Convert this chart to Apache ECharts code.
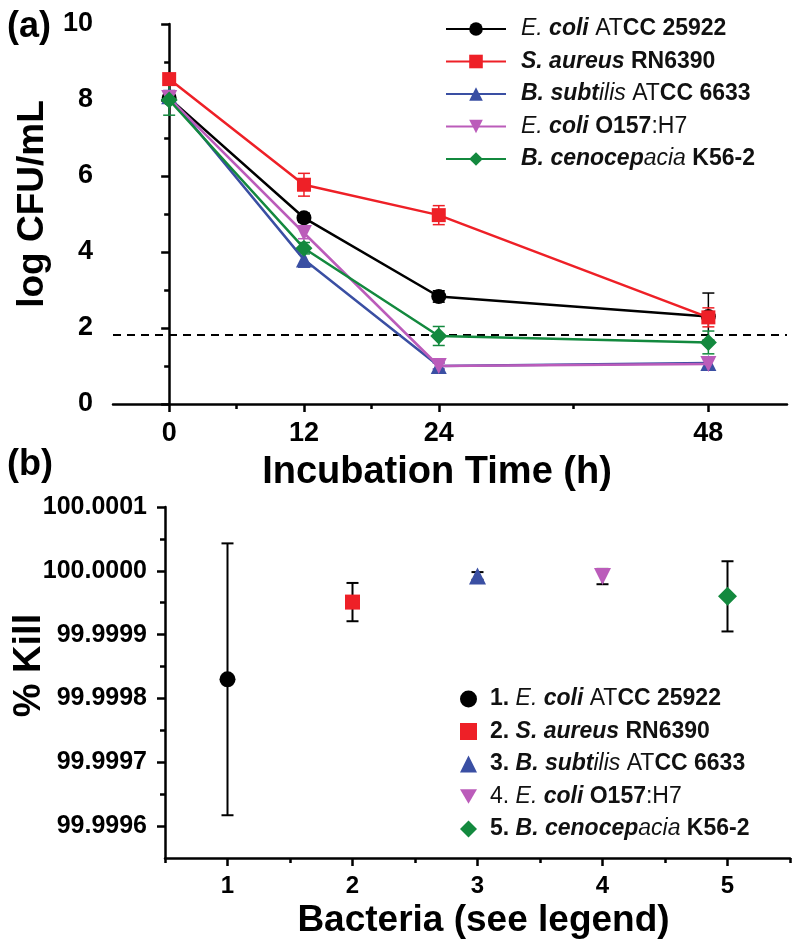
<!DOCTYPE html>
<html>
<head>
<meta charset="utf-8">
<script src="https://cdn.jsdelivr.net/npm/echarts@6/dist/echarts.min.js"></script>
<style>
html,body{margin:0;padding:0;background:#fff;}
#chart{width:800px;height:951px;}
</style>
</head>
<body>
<div id="chart"></div>
<script>
// ---------- Data ----------
var times = [0, 12, 24, 48];
var timeTicks = [0, 12, 24, 48];
var timeMinorTicks = [6, 18, 36];

var namesA = ['E. coli ATCC 25922', 'S. aureus RN6390', 'B. subtilis ATCC 6633', 'E. coli O157:H7', 'B. cenocepacia K56-2'];
var ecoliATCC = [8.05, 4.90, 2.83, 2.30];
var ecoliATCCErr = [0.10, 0.12, 0.15, 0.62];
var saureus = [8.55, 5.77, 4.97, 2.28];
var saureusErr = [0.12, 0.30, 0.25, 0.25];
var bsubtilis = [8.10, 3.80, 1.00, 1.08];
var bsubtilisErr = [0.15, 0.20, 0.08, 0.15];
var ecoliO157 = [8.05, 4.50, 1.00, 1.05];
var ecoliO157Err = [0.12, 0.15, 0.08, 0.15];
var bceno = [8.00, 4.10, 1.79, 1.62];
var bcenoErr = [0.40, 0.15, 0.25, 0.30];
var detectionLimit = 1.82;

var bacteria = [1, 2, 3, 4, 5];
var namesB = ['1. E. coli ATCC 25922', '2. S. aureus RN6390', '3. B. subtilis ATCC 6633', '4. E. coli O157:H7', '5. B. cenocepacia K56-2'];
var killVals = [99.99983, 99.999951, 99.999992, 99.999991, 99.99996];
var killErr = [0.000213, 0.00003, 0.000006, 0.000012, 0.000055];
var killTicks = [99.9996, 99.9997, 99.9998, 99.9999, 100.0000, 100.0001];
var killMinorTicks = [99.99965, 99.99975, 99.99985, 99.99995, 100.00005];
var bacteriaMinorTicks = [0.5, 1.5, 2.5, 3.5, 4.5, 5.5];

var legendTextA = [
  '{i|E.} {bi|coli} {r|AT}{b|CC 25922}',
  '{bi|S. aureus} {b|RN6390}',
  '{bi|B. subt}{i|ilis} {r|AT}{b|CC 6633}',
  '{i|E.} {bi|coli} {b|O157}{r|:H7}',
  '{bi|B. cenocep}{i|acia} {b|K56-2}'
];
var legendTextB = [
  '{b|1.} {i|E.} {bi|coli} {r|AT}{b|CC 25922}',
  '{b|2.} {bi|S. aureus} {b|RN6390}',
  '{b|3.} {bi|B. subt}{i|ilis} {r|AT}{b|CC 6633}',
  '{r|4.} {i|E.} {bi|coli} {b|O157}{r|:H7}',
  '{b|5.} {bi|B. cenocep}{i|acia} {b|K56-2}'
];

// ---------- Styles ----------
var FONT = "'Liberation Sans', Arial, Helvetica, sans-serif";
var colors = ['#000000', '#ee2027', '#3a4fa3', '#bb5cba', '#13893e'];
var symbols = ['circle', 'rect', 'triangle', 'triangle', 'diamond'];
var rotates = [0, 0, 0, 180, 0];
var sizesA = [15, 14, 16, 16, 17];
var sizesB = [16, 15, 17, 17, 19];
var seriesA = [ecoliATCC, saureus, bsubtilis, ecoliO157, bceno];
var errA = [ecoliATCCErr, saureusErr, bsubtilisErr, ecoliO157Err, bcenoErr];
var downTriangle = 'path://M0,0L10,0L5,8.66Z';

var LF = 23;
var richStyles = {
  r: {fontFamily: FONT, fontSize: LF, fontWeight: 'normal', fontStyle: 'normal', color: '#111', lineHeight: 28},
  b: {fontFamily: FONT, fontSize: LF, fontWeight: 'bold', fontStyle: 'normal', color: '#111', lineHeight: 28},
  i: {fontFamily: FONT, fontSize: LF, fontWeight: 'normal', fontStyle: 'italic', color: '#111', lineHeight: 28},
  bi: {fontFamily: FONT, fontSize: LF, fontWeight: 'bold', fontStyle: 'italic', color: '#111', lineHeight: 28}
};

function errRender(capHalf, lw) {
  return function (params, api) {
    var x = api.value(0), lo = api.value(1), hi = api.value(2);
    var pH = api.coord([x, hi]);
    var pL = api.coord([x, lo]);
    var st = {stroke: api.visual('color'), lineWidth: lw};
    return {
      type: 'group',
      children: [
        {type: 'line', shape: {x1: pH[0], y1: pH[1], x2: pL[0], y2: pL[1]}, style: st},
        {type: 'line', shape: {x1: pH[0] - capHalf, y1: pH[1], x2: pH[0] + capHalf, y2: pH[1]}, style: st},
        {type: 'line', shape: {x1: pL[0] - capHalf, y1: pL[1], x2: pL[0] + capHalf, y2: pL[1]}, style: st}
      ]
    };
  };
}

var series = [];
// Panel (a)
for (var k = 0; k < 5; k++) {
  (function (k) {
    var errData = times.map(function (t, i) {
      return [t, seriesA[k][i] - errA[k][i], seriesA[k][i] + errA[k][i]];
    });
    series.push({
      type: 'custom', name: namesA[k] + ' err', xAxisIndex: 0, yAxisIndex: 0,
      renderItem: errRender(6, 1.5), itemStyle: {color: colors[k]},
      data: errData, z: 2, silent: true
    });
    var s = {
      type: 'line', name: namesA[k], xAxisIndex: 0, yAxisIndex: 0,
      data: times.map(function (t, i) { return [t, seriesA[k][i]]; }),
      symbol: symbols[k], symbolSize: sizesA[k], symbolRotate: rotates[k], symbolKeepAspect: true,
      showAllSymbol: true,
      lineStyle: {color: colors[k], width: 2.5},
      itemStyle: {color: colors[k]},
      z: 3 + k
    };
    if (k === 0) {
      s.markLine = {
        silent: true, symbol: 'none', label: {show: false},
        lineStyle: {color: '#000', type: [8, 6], width: 2.2},
        data: [{yAxis: detectionLimit}]
      };
    }
    series.push(s);
  })(k);
}
// Panel (b)
series.push({
  type: 'custom', name: 'kill err', xAxisIndex: 2, yAxisIndex: 1,
  renderItem: errRender(6, 2), itemStyle: {color: '#000'},
  data: bacteria.map(function (b, i) { return [b, killVals[i] - killErr[i], killVals[i] + killErr[i]]; }),
  z: 2, silent: true
});
for (var j = 0; j < 5; j++) {
  series.push({
    type: 'scatter', name: namesB[j], xAxisIndex: 2, yAxisIndex: 1,
    data: [[bacteria[j], killVals[j]]],
    symbol: symbols[j], symbolSize: sizesB[j], symbolRotate: rotates[j], symbolKeepAspect: true,
    itemStyle: {color: colors[j], opacity: 1},
    z: 4
  });
}

var axisLineStyle = {show: true, lineStyle: {color: '#000', width: 2.5}};

var legendDataB = namesB.map(function (n, i) {
  return rotates[i] === 180 ? {name: n, icon: downTriangle} : {name: n};
});

var option = {
  backgroundColor: '#fff',
  animation: false,
  textStyle: {fontFamily: FONT},
  graphic: [
    {type: 'text', left: 7, top: 9, style: {text: '(a)', font: "bold 36px 'Liberation Sans', Arial, sans-serif", fill: '#000'}},
    {type: 'text', left: 7, top: 447, style: {text: '(b)', font: "bold 36px 'Liberation Sans', Arial, sans-serif", fill: '#000'}}
  ],
  grid: [
    {left: 113, top: 24, right: 13, bottom: 547, containLabel: false, outerBoundsMode: 'none'},
    {left: 165, top: 507, right: 10, bottom: 93, containLabel: false, outerBoundsMode: 'none'}
  ],
  legend: [
    {
      data: namesA, orient: 'vertical', left: 445, top: 15, padding: 0,
      itemWidth: 60, itemHeight: 17, itemGap: 4.5,
      formatter: function (n) { return legendTextA[namesA.indexOf(n)]; },
      textStyle: {rich: richStyles, fontSize: LF, lineHeight: 28, padding: [0, 0, 0, 10]},
      selectedMode: false
    },
    {
      data: legendDataB, orient: 'vertical', left: 460, top: 685, padding: 0,
      itemWidth: 17, itemHeight: 17, itemGap: 4.5, symbolKeepAspect: true,
      formatter: function (n) { return legendTextB[namesB.indexOf(n)]; },
      textStyle: {rich: richStyles, fontSize: LF, lineHeight: 28, padding: [0, 0, 0, 8]},
      selectedMode: false
    }
  ],
  xAxis: [
    {
      type: 'value', gridIndex: 0, min: -5, max: 55, position: 'bottom',
      axisLine: axisLineStyle,
      axisTick: {show: true, customValues: timeTicks, length: 8, lineStyle: {color: '#000', width: 2.5}},
      axisLabel: {show: true, customValues: timeTicks, margin: 16, color: '#000', fontFamily: FONT, fontWeight: 'bold', fontSize: 27},
      splitLine: {show: false},
      name: 'Incubation Time (h)', nameLocation: 'middle', nameGap: 50, nameMoveOverlap: false,
      nameTextStyle: {color: '#000', fontFamily: FONT, fontWeight: 'bold', fontSize: 38, padding: [0, 26, 0, 0]}
    },
    {
      type: 'value', gridIndex: 0, min: -5, max: 55, position: 'bottom', offset: 0,
      axisLine: {show: false},
      axisTick: {show: true, customValues: timeMinorTicks, length: 5, lineStyle: {color: '#000', width: 2.5}},
      axisLabel: {show: false, customValues: timeMinorTicks},
      splitLine: {show: false}
    },
    {
      type: 'value', gridIndex: 1, min: 0.5, max: 5.5, position: 'bottom',
      axisLine: axisLineStyle,
      axisTick: {show: true, customValues: bacteria, length: 8, lineStyle: {color: '#000', width: 2.5}},
      axisLabel: {show: true, customValues: bacteria, margin: 16, color: '#000', fontFamily: FONT, fontWeight: 'bold', fontSize: 24},
      splitLine: {show: false},
      name: 'Bacteria (see legend)', nameLocation: 'middle', nameGap: 44, nameMoveOverlap: false,
      nameTextStyle: {color: '#000', fontFamily: FONT, fontWeight: 'bold', fontSize: 37, padding: [0, 0, 0, 12]}
    },
    {
      type: 'value', gridIndex: 1, min: 0.5, max: 5.5, position: 'bottom', offset: 0,
      axisLine: {show: false},
      axisTick: {show: true, customValues: bacteriaMinorTicks, length: 5, lineStyle: {color: '#000', width: 2.5}},
      axisLabel: {show: false, customValues: bacteriaMinorTicks},
      splitLine: {show: false}
    }
  ],
  yAxis: [
    {
      type: 'value', gridIndex: 0, min: 0, max: 10, interval: 2, position: 'left',
      axisLine: axisLineStyle,
      axisTick: {show: true, length: 8, lineStyle: {color: '#000', width: 2.5}},
      minorTick: {show: true, splitNumber: 2, length: 5, lineStyle: {color: '#000', width: 2.5}},
      axisLabel: {margin: 20, color: '#000', fontFamily: FONT, fontWeight: 'bold', fontSize: 27},
      splitLine: {show: false}, minorSplitLine: {show: false},
      name: 'log CFU/mL', nameLocation: 'middle', nameGap: 62, nameMoveOverlap: false,
      nameTextStyle: {color: '#000', fontFamily: FONT, fontWeight: 'bold', fontSize: 37, padding: [0, 0, 0, 20]}
    },
    {
      type: 'value', gridIndex: 1, min: 99.99955, max: 100.0001, position: 'left', scale: true,
      axisLine: axisLineStyle,
      axisTick: {show: true, customValues: killTicks, length: 8, lineStyle: {color: '#000', width: 2.5}},
      axisLabel: {show: true, customValues: killTicks, margin: 18, color: '#000', fontFamily: FONT, fontWeight: 'bold', fontSize: 25,
        formatter: function (v) { return v.toFixed(4); }},
      splitLine: {show: false},
      name: '% Kill', nameLocation: 'middle', nameGap: 116, nameMoveOverlap: false,
      nameTextStyle: {color: '#000', fontFamily: FONT, fontWeight: 'bold', fontSize: 38, padding: [0, 0, 0, 34]}
    },
    {
      type: 'value', gridIndex: 1, min: 99.99955, max: 100.0001, position: 'left', offset: 0, scale: true,
      axisLine: {show: false},
      axisTick: {show: true, customValues: killMinorTicks, length: 5, lineStyle: {color: '#000', width: 2.5}},
      axisLabel: {show: false, customValues: killMinorTicks},
      splitLine: {show: false}
    }
  ],
  series: series
};

var chart = echarts.init(document.getElementById('chart'), null, {renderer: 'canvas'});
chart.setOption(option);
</script>
</body>
</html>
